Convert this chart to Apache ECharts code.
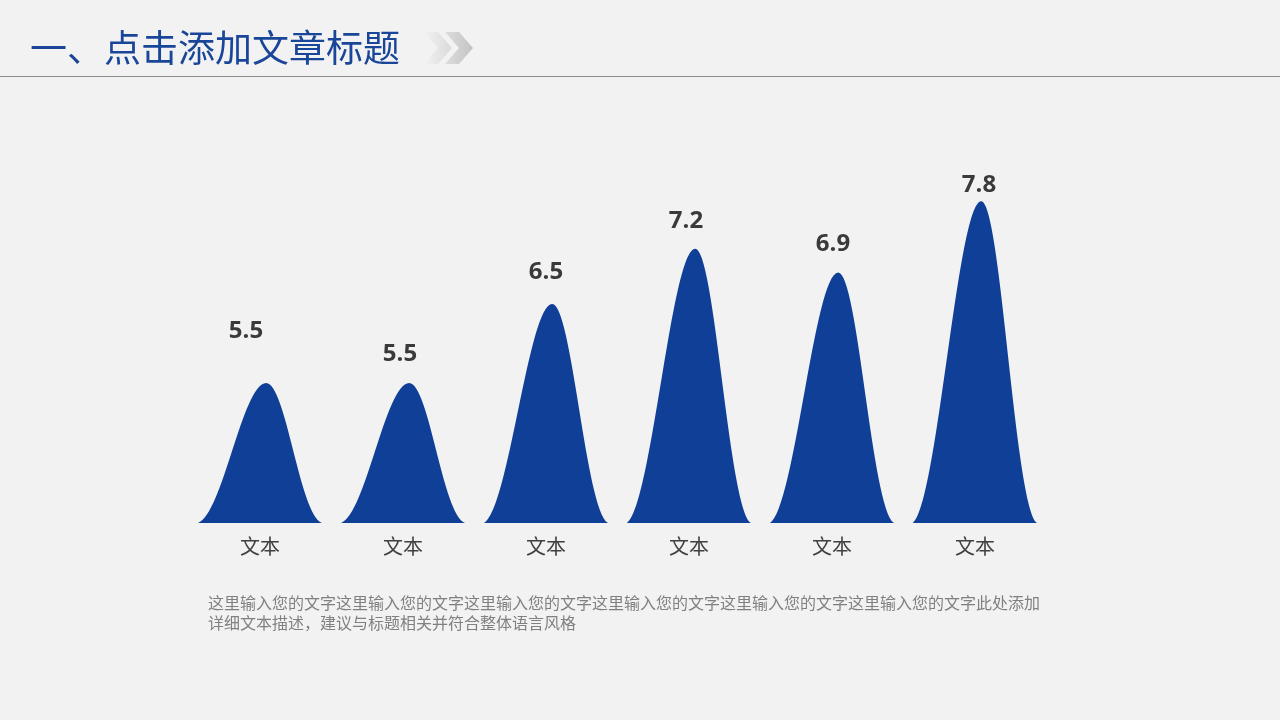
<!DOCTYPE html>
<html>
<head>
<meta charset="utf-8">
<script src="https://cdn.jsdelivr.net/npm/echarts@6/dist/echarts.min.js"></script>
<style>
html,body{margin:0;padding:0;background:#f2f2f2;}
#chart{width:1280px;height:720px;}
</style>
</head>
<body>
<div id="chart"></div>
<script>
const categories = ['文本', '文本', '文本', '文本', '文本', '文本'];
const values = [5.5, 5.5, 6.5, 7.2, 6.9, 7.8];
const titleText = '一、点击添加文章标题';
const descLines = [
  '这里输入您的文字这里输入您的文字这里输入您的文字这里输入您的文字这里输入您的文字这里输入您的文字此处添加',
  '详细文本描述，建议与标题相关并符合整体语言风格'
];
// label nudges (style only)
const labelNudge = [[-14, -22], [-3, 1], [0, -2], [-3, 2], [1, 2], [4, 14]];

const Y_MIN = 3.73, Y_MAX = 8;
const FONT = '"Noto Sans CJK SC", "Microsoft YaHei", sans-serif';
const BELL = 'M0,100 C20,94 36,0 55,0 C71,0 82,94 100,100 Z';
const chart = echarts.init(document.getElementById('chart'));

chart.setOption({
  backgroundColor: '#f2f2f2',
  animation: false,
  grid: { left: 188.5, right: 233.5, top: 185.5, bottom: 197 },
  xAxis: {
    type: 'category',
    data: categories,
    axisLine: { show: false },
    axisTick: { show: false },
    axisLabel: { color: '#404040', fontSize: 20, fontFamily: FONT, margin: 13 }
  },
  yAxis: {
    type: 'value', min: Y_MIN, max: Y_MAX,
    show: false, splitLine: { show: false }
  },
  series: [{
    type: 'custom',
    data: values.map((v, i) => [i, v]),
    encode: { x: 0, y: 1 },
    renderItem: function (params, api) {
      const top = api.coord([api.value(0), api.value(1)]);
      const base = api.coord([api.value(0), Y_MIN]);
      const w = api.size([1, 0])[0] * 0.867;
      return {
        type: 'path',
        shape: { pathData: BELL, x: top[0] - w / 2, y: top[1], width: w, height: base[1] - top[1], layout: 'cover' },
        style: { fill: '#103f97' }
      };
    }
  }, {
    type: 'scatter',
    symbolSize: 0,
    itemStyle: { opacity: 1 },
    data: values.map((v, i) => ({ value: [i, v], label: { offset: labelNudge[i] } })),
    label: {
      show: true, position: 'top', distance: 18,
      formatter: p => p.value[1],
      color: '#3a3a3a', fontSize: 24, fontWeight: 'bold', fontFamily: '"Open Sans", "Noto Sans", sans-serif'
    }
  }],
  graphic: [
    { type: 'text', left: 30, top: 29, style: { text: titleText, fill: '#1a4699', fontSize: 37, fontFamily: FONT } },
    { type: 'polygon', shape: { points: [[424,32],[438,32],[452,48],[438,64],[424,64],[438,48]] },
      style: { fill: new echarts.graphic.LinearGradient(0,0,1,0,[{offset:0,color:'#f2f2f2'},{offset:1,color:'#dadada'}]) } },
    { type: 'polygon', shape: { points: [[445,32],[459,32],[473,48],[459,64],[445,64],[459,48]] },
      style: { fill: new echarts.graphic.LinearGradient(0,0,1,0,[{offset:0,color:'#dcdcdc'},{offset:1,color:'#c4c4c4'}]) } },
    { type: 'line', shape: { x1: 0, y1: 76.5, x2: 1280, y2: 76.5 }, style: { stroke: '#8c8c8c', lineWidth: 1 } },
    { type: 'text', left: 208, top: 593, style: { text: descLines.join('\n'), fill: '#808080', fontSize: 16, lineHeight: 20, fontFamily: FONT } }
  ]
});
</script>
</body>
</html>
